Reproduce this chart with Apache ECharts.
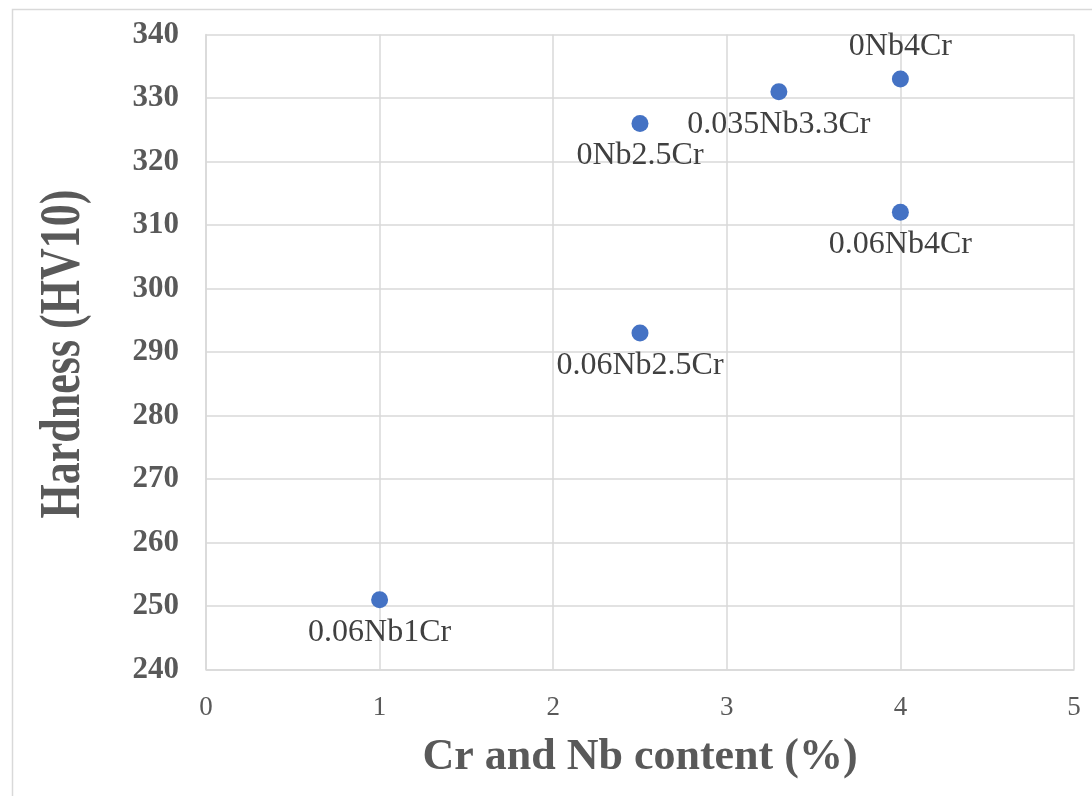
<!DOCTYPE html>
<html>
<head>
<meta charset="utf-8">
<script src="https://cdn.jsdelivr.net/npm/echarts@6/dist/echarts.min.js"></script>
<style>html,body{margin:0;padding:0;background:#fff;overflow:hidden;}#c{width:1092px;height:796px;}</style>
</head>
<body>
<div id="c"></div>
<script>
const sampleNames = ['0.06Nb1Cr', '0.06Nb2.5Cr', '0Nb2.5Cr', '0.035Nb3.3Cr', '0Nb4Cr', '0.06Nb4Cr'];
const content = [1, 2.5, 2.5, 3.3, 4, 4];
const hardness = [251, 293, 326, 331, 333, 312];
const xTicks = [0, 1, 2, 3, 4, 5];
const yTicks = [240, 250, 260, 270, 280, 290, 300, 310, 320, 330, 340];
const xTitle = 'Cr and Nb content (%)';
const yTitle = 'Hardness (HV10)';

const labelAbove = { '0Nb4Cr': true };

const chart = echarts.init(document.getElementById('c'), null, { renderer: 'canvas' });
const serif = '"Liberation Serif", "Times New Roman", serif';
const data = sampleNames.map((n, i) => ({
  value: [content[i], hardness[i]],
  name: n,
  label: { position: labelAbove[n] ? 'top' : 'bottom' }
}));

chart.setOption({
  animation: false,
  backgroundColor: '#fff',
  graphic: [{
    type: 'rect', left: 10, top: 7, z: -1,
    shape: { width: 1100, height: 800 },
    style: { fill: 'none', stroke: '#d9d9d9', lineWidth: 1.5 }
  }, {
    type: 'text',
    x: 64, y: 354,
    rotation: Math.PI / 2,
    scaleX: 1, scaleY: 1.3,
    style: {
      text: yTitle, fontFamily: serif, fontWeight: 'bold', fontSize: 44,
      fill: '#595959', align: 'center', verticalAlign: 'middle'
    }
  }],
  grid: { left: 206, right: 18, top: 34.5, bottom: 126.5, containLabel: false, outerBoundsMode: 'none' },
  xAxis: {
    type: 'value', min: xTicks[0], max: xTicks[xTicks.length - 1], interval: 1,
    name: xTitle, nameLocation: 'middle', nameGap: 66,
    nameTextStyle: { fontFamily: serif, fontWeight: 'bold', fontSize: 44, color: '#595959' },
    axisLine: { show: true, lineStyle: { color: '#d9d9d9', width: 1.5 } },
    axisTick: { show: false },
    axisLabel: { fontFamily: serif, fontSize: 27, color: '#595959', margin: 25 },
    splitLine: { show: true, lineStyle: { color: '#d9d9d9', width: 1.5 } }
  },
  yAxis: {
    type: 'value', min: yTicks[0], max: yTicks[yTicks.length - 1], interval: 10,
    axisLine: { show: true, lineStyle: { color: '#d9d9d9', width: 1.5 } },
    axisTick: { show: false },
    axisLabel: { fontFamily: serif, fontSize: 31, fontWeight: 'bold', color: '#595959', margin: 27 },
    splitLine: { show: true, lineStyle: { color: '#d9d9d9', width: 1.5 } }
  },
  series: [{
    type: 'scatter',
    symbol: 'circle',
    symbolSize: 17,
    itemStyle: { color: '#4472c4', opacity: 1 },
    label: {
      show: true,
      formatter: p => p.name,
      fontFamily: serif, fontSize: 32, color: '#404040', distance: 8
    },
    data: data
  }]
});
</script>
</body>
</html>
